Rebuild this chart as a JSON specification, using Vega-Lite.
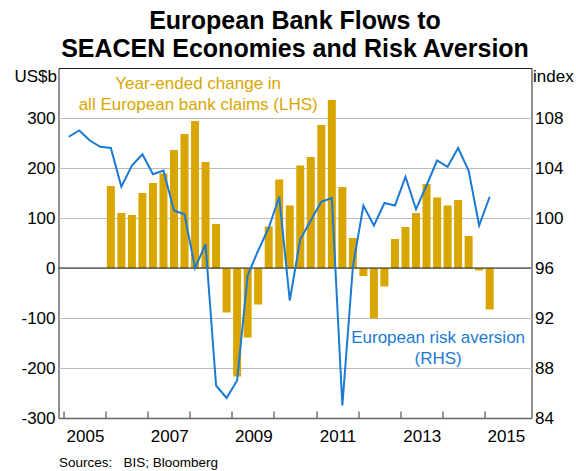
{
  "$schema": "https://vega.github.io/schema/vega-lite/v6.json",
  "width": 473,
  "height": 350,
  "autosize": {"type": "none"},
  "padding": {"left": 58.5, "top": 68, "right": 44.5, "bottom": 53},
  "config": {
    "font": "Liberation Sans",
    "view": {"stroke": "#222", "strokeWidth": 1},
    "axis": {"labelFont": "Liberation Sans", "titleFont": "Liberation Sans"}
  },
  "title": {
    "text": ["European Bank Flows to", "SEACEN Economies and Risk Aversion"],
    "fontSize": 25,
    "font": "Liberation Sans",
    "fontWeight": "bold",
    "lineHeight": 28,
    "anchor": "middle",
    "offset": 5,
    "color": "#000"
  },
  "datasets": {
    "claims": [
      {"t": 2006.125, "claims": 164}, {"t": 2006.375, "claims": 110}, {"t": 2006.625, "claims": 106}, {"t": 2006.875, "claims": 150},
      {"t": 2007.125, "claims": 170}, {"t": 2007.375, "claims": 189}, {"t": 2007.625, "claims": 236}, {"t": 2007.875, "claims": 268},
      {"t": 2008.125, "claims": 294}, {"t": 2008.375, "claims": 212}, {"t": 2008.625, "claims": 88}, {"t": 2008.875, "claims": -89},
      {"t": 2009.125, "claims": -217}, {"t": 2009.375, "claims": -139}, {"t": 2009.625, "claims": -73}, {"t": 2009.875, "claims": 83},
      {"t": 2010.125, "claims": 177}, {"t": 2010.375, "claims": 125}, {"t": 2010.625, "claims": 205}, {"t": 2010.875, "claims": 222},
      {"t": 2011.125, "claims": 286}, {"t": 2011.375, "claims": 336}, {"t": 2011.625, "claims": 162}, {"t": 2011.875, "claims": 60},
      {"t": 2012.125, "claims": -16}, {"t": 2012.375, "claims": -101}, {"t": 2012.625, "claims": -37}, {"t": 2012.875, "claims": 58},
      {"t": 2013.125, "claims": 82}, {"t": 2013.375, "claims": 110}, {"t": 2013.625, "claims": 168}, {"t": 2013.875, "claims": 141},
      {"t": 2014.125, "claims": 125}, {"t": 2014.375, "claims": 136}, {"t": 2014.625, "claims": 64}, {"t": 2014.875, "claims": -5},
      {"t": 2015.125, "claims": -83}
    ],
    "risk": [
      {"t": 2005.125, "risk": 106.5}, {"t": 2005.375, "risk": 107.0}, {"t": 2005.625, "risk": 106.2}, {"t": 2005.875, "risk": 105.7},
      {"t": 2006.125, "risk": 105.6}, {"t": 2006.375, "risk": 102.5}, {"t": 2006.625, "risk": 104.2}, {"t": 2006.875, "risk": 105.1},
      {"t": 2007.125, "risk": 103.5}, {"t": 2007.375, "risk": 103.8}, {"t": 2007.625, "risk": 100.6}, {"t": 2007.875, "risk": 100.3},
      {"t": 2008.125, "risk": 96.0}, {"t": 2008.375, "risk": 97.9}, {"t": 2008.625, "risk": 86.6}, {"t": 2008.875, "risk": 85.6},
      {"t": 2009.125, "risk": 87.0}, {"t": 2009.375, "risk": 95.4}, {"t": 2009.625, "risk": 97.4}, {"t": 2009.875, "risk": 99.2},
      {"t": 2010.125, "risk": 101.7}, {"t": 2010.375, "risk": 93.4}, {"t": 2010.625, "risk": 98.3}, {"t": 2010.875, "risk": 99.8},
      {"t": 2011.125, "risk": 101.3}, {"t": 2011.375, "risk": 101.6}, {"t": 2011.625, "risk": 85.0}, {"t": 2011.875, "risk": 96.1},
      {"t": 2012.125, "risk": 101.0}, {"t": 2012.375, "risk": 99.4}, {"t": 2012.625, "risk": 101.2}, {"t": 2012.875, "risk": 101.0},
      {"t": 2013.125, "risk": 103.3}, {"t": 2013.375, "risk": 100.7}, {"t": 2013.625, "risk": 102.6}, {"t": 2013.875, "risk": 104.6},
      {"t": 2014.125, "risk": 104.1}, {"t": 2014.375, "risk": 105.6}, {"t": 2014.625, "risk": 103.8}, {"t": 2014.875, "risk": 99.4},
      {"t": 2015.125, "risk": 101.7}
    ]
  },
  "layer": [
    {
      "layer": [
        {
          "data": {"name": "claims"},
          "mark": {"type": "bar", "width": 8, "color": "#D9A600"},
          "encoding": {
            "x": {
              "field": "t",
              "type": "quantitative",
              "scale": {"domain": [2005, 2016], "nice": false, "zero": false},
              "axis": {
                "values": [2005, 2006, 2007, 2008, 2009, 2010, 2011, 2012, 2013, 2014, 2015],
                "labelExpr": "datum.value % 2 == 1 ? '' + datum.value : ''",
                "labelOffset": 21.5,
                "labelFlush": false,
                "labelOverlap": false,
                "labelFontSize": 17,
                "labelColor": "#000",
                "tickSize": -7,
                "tickColor": "#333",
                "tickWidth": 1,
                "labelPadding": 17,
                "grid": false,
                "domainColor": "#666",
                "domainWidth": 1.5,
                "title": "Sources:\u00a0\u00a0 BIS; Bloomberg",
                "titleAnchor": "start",
                "titleAlign": "left",
                "titleFontSize": 13.5,
                "titleFontWeight": "normal",
                "titleColor": "#000",
                "titlePadding": 11
              }
            },
            "y": {
              "field": "claims",
              "type": "quantitative",
              "scale": {"domain": [-300, 400], "nice": false},
              "axis": {
                "values": [-300, -200, -100, 0, 100, 200, 300],
                "labelExpr": "'' + datum.value",
                "grid": true,
                "gridColor": "#BBBBBB",
                "gridWidth": 1,
                "ticks": false,
                "domain": false,
                "labelPadding": 3.5,
                "labelFontSize": 17,
                "labelColor": "#000",
                "title": "US$b",
                "titleAngle": 0,
                "titleAlign": "right",
                "titleBaseline": "middle",
                "titleX": -2,
                "titleY": 8,
                "titleFontSize": 17,
                "titleFontWeight": "normal",
                "titleColor": "#000"
              }
            }
          }
        },
        {
          "data": {"values": [{}]},
          "mark": {"type": "rule", "color": "#222", "strokeWidth": 1},
          "encoding": {"y": {"datum": 0}}
        },
        {
          "data": {"values": [{}]},
          "mark": {
            "type": "text",
            "text": ["Year-ended change in", "all European bank claims (LHS)"],
            "color": "#D9A600",
            "fontSize": 17,
            "lineHeight": 20.5,
            "align": "center",
            "baseline": "middle"
          },
          "encoding": {"x": {"datum": 2008.2}, "y": {"datum": 368}}
        }
      ]
    },
    {
      "layer": [
        {
          "data": {"name": "risk"},
          "mark": {"type": "line", "color": "#1B7AD3", "strokeWidth": 2},
          "encoding": {
            "x": {"field": "t", "type": "quantitative"},
            "y": {
              "field": "risk",
              "type": "quantitative",
              "scale": {"domain": [84, 112], "nice": false, "zero": false},
              "axis": {
                "orient": "right",
                "values": [84, 88, 92, 96, 100, 104, 108],
                "grid": false,
                "ticks": false,
                "domain": false,
                "labelPadding": 3,
                "labelFontSize": 17,
                "labelColor": "#000",
                "title": "index",
                "titleAngle": 0,
                "titleAlign": "left",
                "titleBaseline": "middle",
                "titleX": 1,
                "titleY": 8,
                "titleFontSize": 17,
                "titleFontWeight": "normal",
                "titleColor": "#000"
              }
            }
          }
        },
        {
          "data": {"values": [{}]},
          "mark": {
            "type": "text",
            "text": ["European risk aversion", "(RHS)"],
            "color": "#1B7AD3",
            "fontSize": 17,
            "lineHeight": 20.5,
            "align": "center",
            "baseline": "middle"
          },
          "encoding": {"x": {"datum": 2013.9}, "y": {"datum": 90.4}}
        }
      ]
    }
  ],
  "resolve": {"scale": {"y": "independent"}}
}
